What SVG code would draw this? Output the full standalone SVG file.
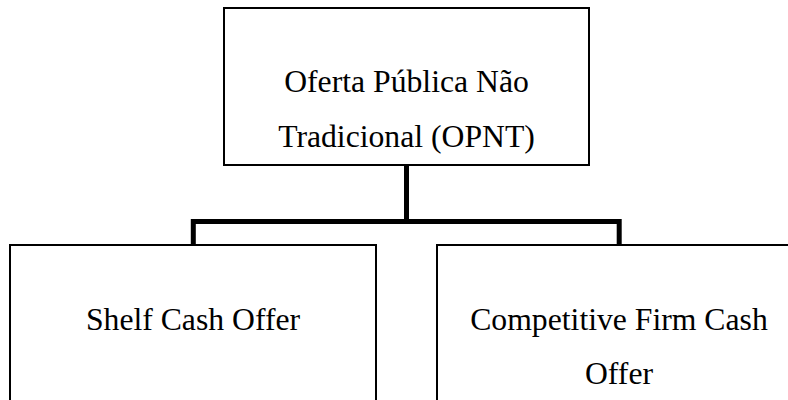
<svg xmlns="http://www.w3.org/2000/svg" width="788" height="400" viewBox="0 0 788 400">
<style>
.box{fill:#fff;stroke:#000;stroke-width:2}
.lbl{font-family:"Liberation Serif","Times New Roman",serif;font-size:31.7px;fill:#000;text-anchor:middle}
.conn{fill:none;stroke:#000;stroke-width:5;stroke-linejoin:miter}
</style>
<rect width="788" height="400" fill="#fff"/>
<g id="connectors">
<path class="conn" d="M406.5 165 V221.5"/>
<path class="conn" d="M193.3 245 V221.5 H619.2 V245"/>
</g>
<g id="node-opnt">
<rect class="box" x="224" y="8" width="365" height="157"/>
<text class="lbl" x="406.5" y="92">Oferta Pública Não</text>
<text class="lbl" x="406.5" y="147">Tradicional (OPNT)</text>
</g>
<g id="node-shelf">
<rect class="box" x="10" y="245" width="366" height="170"/>
<text class="lbl" x="193" y="330">Shelf Cash Offer</text>
</g>
<g id="node-competitive">
<rect class="box" x="437" y="245" width="370" height="170"/>
<text class="lbl" x="619" y="330">Competitive Firm Cash</text>
<text class="lbl" x="619" y="384">Offer</text>
</g>
</svg>
